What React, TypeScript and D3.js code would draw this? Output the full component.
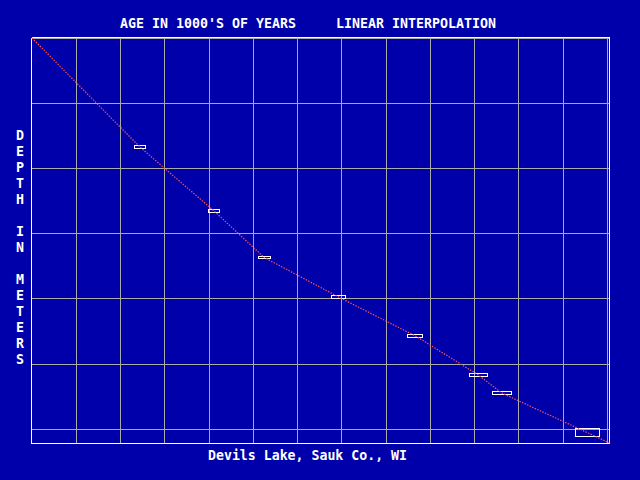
import React from "react";
import * as d3 from "d3";

// Dated samples: age (1000s of years), age error, depth (m), depth error
const ages = [2.44, 4.11, 5.25, 6.93, 8.66, 10.09, 10.62, 12.55];
const ageErrs = [0.124, 0.124, 0.136, 0.158, 0.17, 0.203, 0.215, 0.271];
const depths = [1.672, 2.65, 3.367, 3.972, 4.567, 5.169, 5.445, 6.051];
const depthErrs = [0.023, 0.023, 0.017, 0.025, 0.023, 0.025, 0.025, 0.062];

// Interpolated age-depth curve ends
const curveStart = [0, 0];
const curveEnd = [13.05, 6.21];

const ageTicks = d3.range(0, 14);
const depthTicks = d3.range(0, 7);

const titleLeft = "AGE IN 1000'S OF YEARS";
const titleRight = "LINEAR INTERPOLATION";
const yLabel = "DEPTH IN METERS";
const siteLabel = "Devils Lake, Sauk Co., WI";

const W = 640;
const H = 480;
const BG = "#0000AA";
const GRID = "#AAAAAA";
const FONT = "'DejaVu Sans Mono', 'Liberation Mono', monospace";

export default function App() {
  const x = d3.scaleLinear().domain([0, 13.05]).range([32, 609.5]);
  const y = d3.scaleLinear().domain([0, 6.21]).range([38, 443]);

  const pts: [number, number][] = [
    [curveStart[0], curveStart[1]],
    ...ages.map((a, i) => [a, depths[i]] as [number, number]),
    [curveEnd[0], curveEnd[1]],
  ];
  const line = d3
    .line<[number, number]>()
    .x((d) => x(d[0]))
    .y((d) => y(d[1]));

  const px = (v: number) => Math.floor(v) + 0.5;

  const yLetters = yLabel.split("");

  return (
    <svg
      width={W}
      height={H}
      style={{ position: "fixed", left: 0, top: 0, display: "block" }}
    >
      <rect x={0} y={0} width={W} height={H} fill={BG} />
      {/* grid */}
      <g stroke={GRID} strokeWidth={1} shapeRendering="crispEdges">
        {ageTicks.slice(1).map((t) => (
          <line key={"v" + t} x1={px(x(t))} x2={px(x(t))} y1={38} y2={443} />
        ))}
        {depthTicks.map((t) => (
          <line key={"h" + t} x1={32} x2={609} y1={px(y(t))} y2={px(y(t))} />
        ))}
      </g>
      {/* frame */}
      <g stroke="#FFFFFF" strokeWidth={1} shapeRendering="crispEdges">
        <line x1={31.5} x2={609.5} y1={37.5} y2={37.5} />
        <line x1={31.5} x2={609.5} y1={443.5} y2={443.5} />
        <line x1={31.5} x2={31.5} y1={37.5} y2={443.5} />
        <line x1={609.5} x2={609.5} y1={37.5} y2={443.5} />
      </g>
      {/* sample boxes */}
      <g fill="none" stroke="#FFFFFF" strokeWidth={1} shapeRendering="crispEdges">
        {ages.map((a, i) => {
          const x0 = px(x(a - ageErrs[i]));
          const x1 = px(x(a + ageErrs[i]));
          const y0 = px(y(depths[i] - depthErrs[i]));
          const y1 = px(y(depths[i] + depthErrs[i]));
          return (
            <rect key={i} x={x0} y={y0} width={x1 - x0} height={Math.max(y1 - y0, 2)} />
          );
        })}
      </g>
      {/* interpolation curve */}
      <path
        d={line(pts) || ""}
        fill="none"
        stroke="#FF5555"
        strokeWidth={1.2}
        strokeDasharray="1.4 1.4"
      />
      {/* title */}
      <g fill="#FFFFFF" fontFamily={FONT} fontWeight="bold" fontSize={13.3}>
        <text x={120} y={28} textLength={176} lengthAdjust="spacingAndGlyphs">
          {titleLeft}
        </text>
        <text x={336} y={28} textLength={160} lengthAdjust="spacingAndGlyphs">
          {titleRight}
        </text>
        <text x={208} y={460} textLength={199} lengthAdjust="spacingAndGlyphs">
          {siteLabel}
        </text>
        {yLetters.map((c, i) =>
          c === " " ? null : (
            <text key={i} x={20} y={135 + i * 16 + 5} textAnchor="middle">
              {c}
            </text>
          )
        )}
      </g>
    </svg>
  );
}
